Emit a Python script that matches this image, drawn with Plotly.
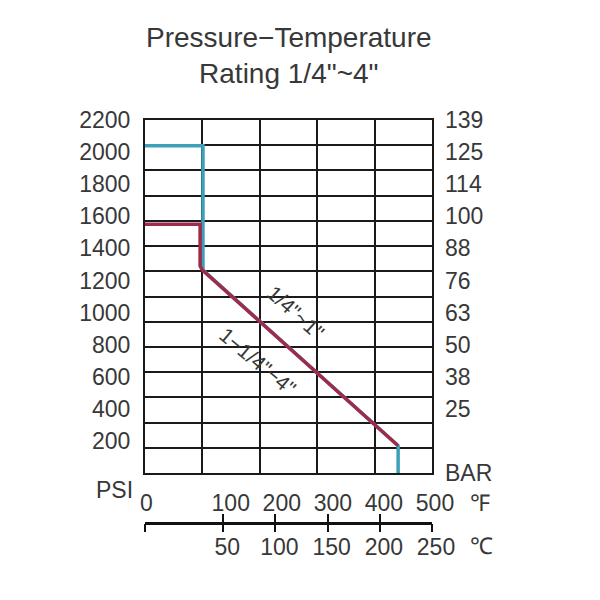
import plotly.graph_objects as go

# pressure / temperature rating curves (x in degF on the grid, y in PSI)
small_temp = [0, 101, 101, 441, 441]
small_psi = [2040, 2040, 1265, 170, 0]
large_temp = [0, 96, 96, 100, 441]
large_psi = [1550, 1550, 1290, 1265, 170]

psi_ticks = [200, 400, 600, 800, 1000, 1200, 1400, 1600, 1800, 2000, 2200]
bar_ticks = [0, 400, 600, 800, 1000, 1200, 1400, 1600, 1800, 2000, 2200]
bar_labels = ["BAR", "25", "38", "50", "63", "76", "88", "100", "114", "125", "139"]
f_ticks = [100, 200, 300, 400, 500]
c_ticks = [50, 100, 150, 200, 250]

FONT = "Arial, Liberation Sans, sans-serif"
INK = "#1a1a1a"
TXT = "#383838"
GRID_ROWS = 14

fig = go.Figure()
fig.add_trace(go.Scatter(x=small_temp, y=small_psi, mode="lines",
                         line=dict(color="#3e9fb8", width=3.5), name='1/4"~1"'))
fig.add_trace(go.Scatter(x=large_temp, y=large_psi, mode="lines",
                         line=dict(color="#9d2c4b", width=3.5), name='1-1/4"~4"'))

# invisible anchors so the extra axes (labels, celsius scale, grid rows) get drawn
for xa, ya, xv, yv in [("x2", "y", f_ticks[0], psi_ticks[0]),
                       ("x3", "y", c_ticks[0], psi_ticks[0]),
                       ("x4", "y", c_ticks[0], psi_ticks[0]),
                       ("x", "y2", small_temp[0], bar_ticks[1]),
                       ("x", "y3", small_temp[0], 1)]:
    fig.add_trace(go.Scatter(x=[xv], y=[yv], xaxis=xa, yaxis=ya, mode="markers",
                             marker=dict(opacity=0), hoverinfo="skip"))

axis_font = dict(family=FONT, size=23, color=TXT)

fig.update_layout(
    width=600, height=600,
    margin=dict(l=137, r=176, t=112, b=85),
    paper_bgcolor="white", plot_bgcolor="white",
    showlegend=False,
    font=dict(family=FONT, color=TXT),
    xaxis=dict(range=[0, 500], dtick=100, showgrid=True, gridcolor=INK, gridwidth=2,
               showticklabels=False, ticks="", zeroline=False,
               showline=True, mirror=True, linecolor=INK, linewidth=2),
    xaxis2=dict(overlaying="x", anchor="y", side="bottom", range=[-62, 500],
                tickvals=f_ticks, ticktext=[str(v) for v in f_ticks],
                showgrid=False, zeroline=False, showline=False, ticks="",
                tickfont=axis_font, ticklabelstandoff=14, ticklabelshift=3),
    xaxis3=dict(overlaying="x", anchor="free", position=0, range=[-25, 250],
                tickvals=[-25] + c_ticks, ticktext=[""] + [str(v) for v in c_ticks],
                showgrid=False, zeroline=False, showline=True, linecolor="#111111",
                linewidth=3, ticks="inside", ticklen=8, tickwidth=2, tickcolor="#111111",
                tickfont=axis_font, ticklabelshift=4, ticklabelstandoff=2),
    xaxis4=dict(overlaying="x", anchor="free", position=0, range=[-25, 250],
                tickvals=[-25] + c_ticks, showticklabels=False,
                showgrid=False, zeroline=False, showline=False,
                ticks="outside", ticklen=8, tickwidth=2, tickcolor="#111111"),
    yaxis=dict(domain=[0.124, 1], range=[0, 2200], tickvals=psi_ticks,
               showgrid=False, zeroline=False, ticks="",
               showline=True, mirror=True, linecolor=INK, linewidth=2,
               tickfont=axis_font, ticklabelstandoff=8),
    yaxis2=dict(overlaying="y", side="right", range=[0, 2200],
                tickvals=bar_ticks, ticktext=bar_labels,
                showgrid=False, zeroline=False, showline=False, ticks="",
                tickfont=axis_font, ticklabelstandoff=12),
    yaxis3=dict(overlaying="y", range=[0, GRID_ROWS], dtick=1,
                showgrid=True, gridcolor=INK, gridwidth=2,
                showticklabels=False, ticks="", zeroline=False, showline=False),
)

fig.add_annotation(text="Pressure\u2212Temperature<br>Rating 1/4\"~4\"",
                   xref="paper", yref="paper", x=0.5, y=1.16,
                   xanchor="center", yanchor="middle", showarrow=False,
                   font=dict(family=FONT, size=28, color=TXT))

side_labels = [("PSI", -0.105, 0.082), ("0", 0.004, 0.05),
               ("\u2109", 1.167, 0.05), ("\u2103", 1.171, -0.057)]
for txt, x, y in side_labels:
    fig.add_annotation(text=txt, xref="paper", yref="paper", x=x, y=y,
                       xanchor="center", yanchor="middle", showarrow=False,
                       font=axis_font)

fig.add_annotation(text='1/4"~1"', x=263, y=1003, textangle=42, showarrow=False,
                   font=dict(family=FONT, size=21, color=TXT))
fig.add_annotation(text='1\u22121/4"\u22124"', x=197, y=698, textangle=40, showarrow=False,
                   font=dict(family=FONT, size=21, color=TXT))

fig.write_html("out.html")
